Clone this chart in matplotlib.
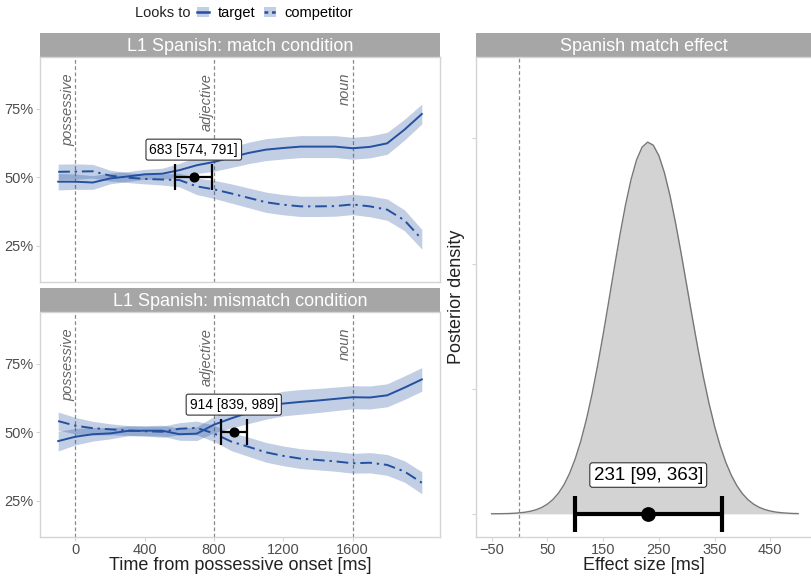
import numpy as np
import matplotlib
matplotlib.use("Agg")
import matplotlib.pyplot as plt
from matplotlib.lines import Line2D
from matplotlib.patches import Patch
from matplotlib.legend_handler import HandlerTuple

plt.rcParams['font.family'] = ['Liberation Sans', 'DejaVu Sans']

# time bins (ms from possessive onset)
time = [-100, 0, 100, 200, 300, 400, 500, 600, 700, 800, 900, 1000,
        1100, 1200, 1300, 1400, 1500, 1600, 1700, 1800, 1900, 2000]

# match condition: looks (%) and half-width of the ribbon
match_target = [48.3, 48.3, 48.0, 49.5, 50.2, 51.0, 51.2, 52.5, 54.3, 55.5, 57.2,
                58.8, 60.0, 60.6, 61.1, 61.1, 61.1, 60.5, 61.0, 62.3, 67.3, 73.0]
match_target_hw = [3.0, 2.8, 2.5, 2.0, 1.8, 1.8, 2.0, 2.5, 3.0, 3.4, 3.7,
                   3.9, 4.0, 4.0, 4.0, 4.0, 4.0, 4.0, 4.0, 4.0, 3.8, 3.6]
match_comp = [51.9, 52.0, 52.1, 50.5, 49.8, 49.3, 49.1, 48.9, 46.6, 45.5, 44.0,
              42.4, 40.8, 39.9, 39.3, 39.3, 39.4, 40.0, 39.3, 38.1, 34.2, 27.3]
match_comp_hw = [2.8, 2.8, 2.5, 2.0, 1.8, 1.8, 2.0, 2.5, 3.0, 3.3, 3.5,
                 3.6, 3.7, 3.7, 3.7, 3.7, 3.7, 3.7, 3.8, 3.9, 3.8, 3.6]

# mismatch condition
mism_target = [46.7, 48.3, 49.2, 49.5, 50.4, 50.5, 50.5, 49.2, 49.4, 52.7, 55.0,
               57.1, 59.0, 60.4, 61.0, 61.5, 62.1, 62.7, 62.6, 63.4, 66.2, 69.2]
mism_target_hw = [3.6, 3.0, 2.5, 2.0, 1.8, 1.8, 2.0, 2.2, 2.5, 3.0, 3.5,
                  4.0, 4.3, 4.5, 4.5, 4.4, 4.3, 4.2, 4.2, 4.2, 4.3, 4.3]
mism_comp = [54.0, 52.3, 51.4, 51.0, 50.6, 50.3, 50.1, 51.2, 51.5, 49.5, 46.5,
             44.6, 42.6, 41.3, 40.3, 39.8, 39.3, 38.6, 38.8, 38.0, 35.6, 31.5]
mism_comp_hw = [3.3, 3.0, 2.5, 2.0, 1.8, 1.8, 2.0, 2.2, 2.5, 3.0, 3.3,
                3.5, 3.6, 3.6, 3.6, 3.6, 3.6, 3.6, 3.7, 3.8, 3.9, 4.0]

# divergence point estimates [estimate, lower, upper]
div_match = [683, 574, 791]
div_mism = [914, 839, 989]

word_onsets = [0, 800, 1600]
word_labels = ['possessive', 'adjective', 'noun']

# posterior of the match effect (density x 1e-3)
effect_x = [-50, -40, -30, -20, -10, 0, 10, 20, 30, 40, 50, 60, 70, 80, 90, 100,
            110, 120, 130, 140, 150, 160, 170, 180, 190, 200, 210, 220, 230, 240,
            250, 260, 270, 280, 290, 300, 310, 320, 330, 340, 350, 360, 370, 380,
            390, 400, 410, 420, 430, 440, 450, 460, 470, 480, 490, 500]
effect_dens = [0.001, 0.002, 0.003, 0.005, 0.009, 0.016, 0.026, 0.042, 0.066, 0.102,
               0.155, 0.229, 0.331, 0.468, 0.649, 0.879, 1.163, 1.506, 1.907, 2.362,
               2.860, 3.388, 3.925, 4.446, 4.926, 5.337, 5.655, 5.860, 5.940, 5.891,
               5.725, 5.452, 5.086, 4.649, 4.164, 3.654, 3.142, 2.647, 2.185, 1.767,
               1.400, 1.088, 0.827, 0.617, 0.450, 0.322, 0.226, 0.155, 0.104, 0.069,
               0.045, 0.028, 0.018, 0.011, 0.006, 0.004]
effect_est = [231, 99, 363]

W, H = 811, 576
blue = '#2350a0'
strip_grey = '#a6a6a6'
border = '#d4d4d4'
tick_grey = '#4d4d4d'

fig = plt.figure(figsize=(W / 100, H / 100), dpi=100)


def box(l, t, r, b):
    return [l / W, 1 - b / H, (r - l) / W, (b - t) / H]


def add_strip(l, t, r, b, label):
    s = fig.add_axes(box(l, t, r, b))
    s.set_facecolor(strip_grey)
    s.set_xticks([])
    s.set_yticks([])
    for sp in s.spines.values():
        sp.set_visible(False)
    s.text(0.5, 0.45, label, color='white', fontsize=13, ha='center', va='center',
           transform=s.transAxes)


def style(ax):
    for sp in ax.spines.values():
        sp.set_color(border)
        sp.set_linewidth(1)
    ax.tick_params(colors=border, labelcolor=tick_grey, labelsize=10.5, length=3, pad=1.5)


def time_panel(ax, tgt, tgt_hw, comp, comp_hw, div, show_x):
    t = np.array(time)
    tg, th = np.array(tgt), np.array(tgt_hw)
    cp, ch = np.array(comp), np.array(comp_hw)
    ax.fill_between(t, tg - th, tg + th, color=blue, alpha=0.28, lw=0)
    ax.fill_between(t, cp - ch, cp + ch, color=blue, alpha=0.28, lw=0)
    ax.plot(t, tg, color=blue, lw=1.4)
    ax.plot(t, cp, color=blue, lw=1.4, ls=(0, (6, 2.5, 1.2, 2.5)))
    for x, lab in zip(word_onsets, word_labels):
        ax.axvline(x, color='#8a8a8a', lw=0.9, ls=(0, (3, 2)), zorder=0)
        ax.text(x - 44, 88, lab, rotation=90, ha='center', va='top', style='italic',
                color='#666666', fontsize=10.5)
    ax.errorbar(div[0], 50, xerr=[[div[0] - div[1]], [div[2] - div[0]]], fmt='o',
                color='black', ms=6.3, capsize=9.4, elinewidth=1.6, capthick=1.6, zorder=5)
    ax.text(div[0], 60, f'{div[0]} [{div[1]}, {div[2]}]', ha='center', va='center',
            fontsize=10, zorder=6,
            bbox=dict(boxstyle='round,pad=0.25,rounding_size=0.15', fc='white',
                      ec='#333333', lw=0.8))
    ax.set_xlim(-205, 2105)
    ax.set_ylim(11.7, 93.8)
    ax.set_yticks([25, 50, 75])
    ax.set_yticklabels(['25%', '50%', '75%'])
    ax.set_xticks([0, 400, 800, 1200, 1600])
    style(ax)
    if not show_x:
        ax.tick_params(axis='x', length=0, labelbottom=False)


add_strip(40, 33, 440, 57, 'L1 Spanish: match condition')
ax1 = fig.add_axes(box(40, 57, 440, 282))
time_panel(ax1, match_target, match_target_hw, match_comp, match_comp_hw, div_match, False)

add_strip(40, 288, 440, 312, 'L1 Spanish: mismatch condition')
ax2 = fig.add_axes(box(40, 312, 440, 537))
time_panel(ax2, mism_target, mism_target_hw, mism_comp, mism_comp_hw, div_mism, True)
ax2.set_xlabel('Time from possessive onset [ms]', fontsize=13, color='#222222', labelpad=0)

# right panel: posterior density
add_strip(476, 33, 811, 57, 'Spanish match effect')
ax3 = fig.add_axes(box(476, 57, 811, 537))
ex = np.array(effect_x)
ed = np.array(effect_dens) / 1000
ax3.fill_between(ex, 0, ed, color='#d3d3d3', lw=0)
ax3.plot(ex, ed, color='#777777', lw=1)
ax3.axvline(0, color='#8a8a8a', lw=0.9, ls=(0, (3, 2)), zorder=0)
ax3.errorbar(effect_est[0], 0, xerr=[[effect_est[0] - effect_est[1]],
                                     [effect_est[2] - effect_est[0]]],
             fmt='o', color='black', ms=9.6, capsize=13, elinewidth=3, capthick=3, zorder=5)
ax3.text(effect_est[0], 0.00062, f'{effect_est[0]} [{effect_est[1]}, {effect_est[2]}]',
         ha='center', va='center', fontsize=13.5, zorder=6,
         bbox=dict(boxstyle='round,pad=0.2,rounding_size=0.15', fc='white',
                   ec='#333333', lw=0.8))
ax3.set_xlim(-78, 523)
ax3.set_ylim(-0.00037, 0.0073)
ax3.set_xticks([-50, 50, 150, 250, 350, 450])
ax3.set_yticks([0, 0.002, 0.004, 0.006])
ax3.set_yticklabels([])
style(ax3)
ax3.spines['right'].set_visible(False)
ax3.set_xlabel('Effect size [ms]', fontsize=13, color='#222222', labelpad=0)
ax3.set_ylabel('Posterior density', fontsize=13, color='#222222')
ax3.yaxis.set_label_coords(-0.033, 0.5)

# legend on top
fig.text(135 / W, 1 - 13 / H, 'Looks to', fontsize=10.5, color='#222222', va='center')
h_t = (Patch(fc=blue, alpha=0.28, lw=0), Line2D([], [], color=blue, lw=1.8))
h_c = (Patch(fc=blue, alpha=0.28, lw=0), Line2D([], [], color=blue, lw=1.8, ls=(0, (1.5, 1.5))))
fig.legend([h_t, h_c], ['target', 'competitor'], loc='center left',
           bbox_to_anchor=(197 / W, 1 - 13 / H), ncol=2, frameon=False,
           handler_map={tuple: HandlerTuple(ndivide=1)}, fontsize=10.5,
           handlelength=0.85, handleheight=0.65, handletextpad=0.55, columnspacing=0.6,
           borderaxespad=0, borderpad=0)

fig.savefig('out.png', dpi=100)
